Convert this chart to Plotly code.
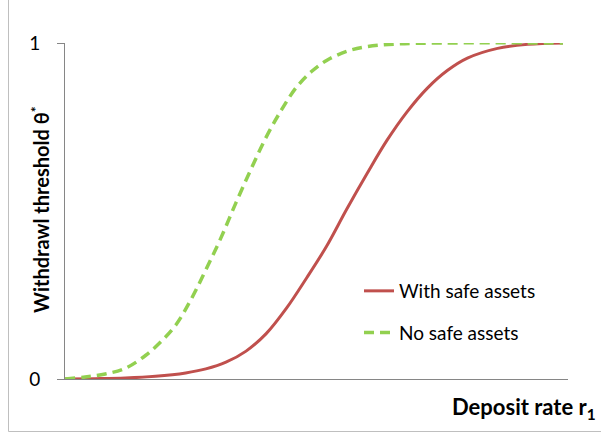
import plotly.graph_objects as go

# Deposit rate (arbitrary units, axis has no labels)
green_x = [0, 4, 8, 12, 16, 19, 22, 25, 28, 31, 34, 37, 40, 43, 46, 49, 52, 56, 60, 66, 75, 99]
green_y = [0, 0.006, 0.015, 0.032, 0.070, 0.110, 0.160, 0.235, 0.325, 0.420, 0.525, 0.625,
           0.720, 0.800, 0.868, 0.915, 0.948, 0.975, 0.989, 0.997, 1.0, 1.0]

red_x = [0, 6, 12, 18, 24, 28, 32, 36, 40, 44, 48, 52, 56, 60, 64, 68, 72, 76, 80, 86, 92, 99]
red_y = [0, 0.001, 0.003, 0.008, 0.018, 0.030, 0.050, 0.083, 0.135, 0.210, 0.300, 0.395,
         0.505, 0.610, 0.710, 0.795, 0.865, 0.918, 0.955, 0.984, 0.996, 1.0]

series_names = ["With safe assets", "No safe assets"]
y_ticks = [0, 1]
y_tick_labels = ["0", "1"]

FONT = "Lato"
L, R, T, B = 65, 33, 43, 55
W, H = 601, 434
pw, ph = W - L - R, H - T - B

def px2x(px):
    return (px - L) / pw

def py2y(py):
    return (H - B - py) / ph

fig = go.Figure()
fig.add_trace(go.Scatter(x=red_x, y=red_y, mode="lines", name=series_names[0],
                         line=dict(color="#C0504D", width=3, shape="spline"),
                         legendgroup="a"))
fig.add_trace(go.Scatter(x=green_x, y=green_y, mode="lines", name=series_names[1],
                         line=dict(color="#92D050", width=3.5, dash="10px,6px", shape="spline"),
                         legendgroup="b"))

fig.update_layout(
    width=W, height=H,
    margin=dict(l=L, r=R, t=T, b=B, pad=0, autoexpand=False),
    paper_bgcolor="white", plot_bgcolor="white",
    font=dict(family=FONT, size=19, color="black"),
    legend=dict(x=px2x(359), y=py2y(272), xanchor="left", yanchor="top",
                bgcolor="rgba(0,0,0,0)", font=dict(family=FONT, size=19),
                itemwidth=30, tracegroupgap=14, traceorder="grouped"),
    xaxis=dict(range=[0, 100], showgrid=False, zeroline=False, showticklabels=False,
               ticks="", showline=True, linecolor="#868686", linewidth=1, automargin=False),
    yaxis=dict(range=[0, 1], tickvals=y_ticks, ticktext=y_tick_labels,
               showgrid=True, gridcolor="#868686", gridwidth=1, zeroline=False,
               showline=True, linecolor="#868686", linewidth=1,
               ticks="outside", ticklen=7, tickcolor="#868686", ticklabelstandoff=13,
               tickfont=dict(family=FONT, size=19), automargin=False),
    showlegend=True,
)

fig.add_annotation(text="<b>Withdrawl threshold θ<sup>*</sup></b>", textangle=-90,
                   xref="paper", yref="paper", x=px2x(40), y=py2y(210),
                   xanchor="center", yanchor="middle", showarrow=False,
                   font=dict(family=FONT, size=20, color="black"))

fig.add_annotation(text="<b>Deposit rate r<sub>1</sub></b>", xref="paper", yref="paper",
                   x=px2x(598), y=py2y(408), xanchor="right", yanchor="middle",
                   showarrow=False, font=dict(family=FONT, size=22, color="black"))

# outer chart border (left and bottom visible)
fig.add_shape(type="line", xref="paper", yref="paper", x0=px2x(8.5), x1=px2x(8.5),
              y0=py2y(0), y1=py2y(431.5), line=dict(color="#BFBFBF", width=1))
fig.add_shape(type="line", xref="paper", yref="paper", x0=px2x(8.5), x1=px2x(601),
              y0=py2y(431.5), y1=py2y(431.5), line=dict(color="#BFBFBF", width=1))

fig.write_html("out.html", config={"displayModeBar": False},
               post_script="document.body.style.margin='0px';")
